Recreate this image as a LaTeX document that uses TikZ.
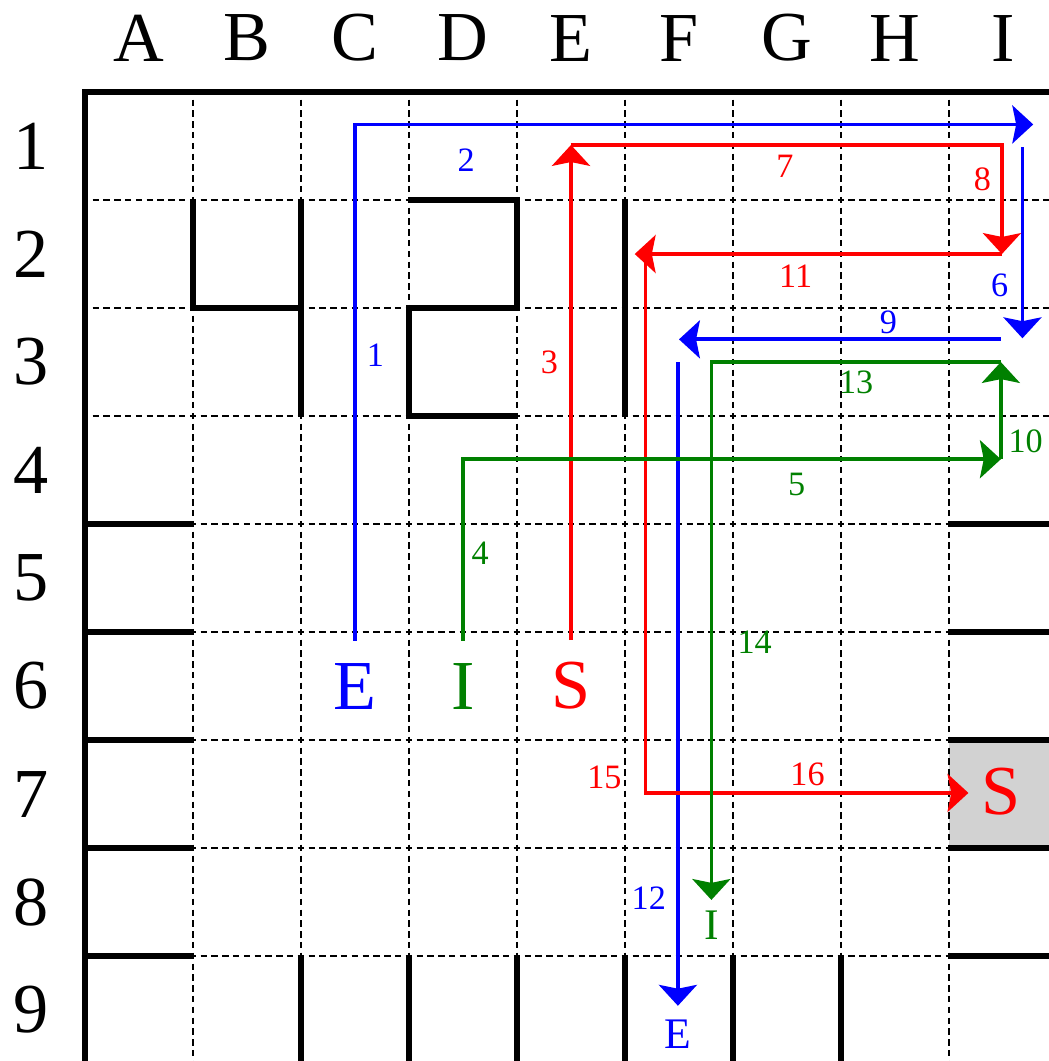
\documentclass[tikz,border=0pt]{standalone}
\usepackage{fontspec}
\setmainfont{Liberation Serif}
\usetikzlibrary{arrows.meta,positioning}

\definecolor{eblue}{RGB}{0,0,255}
\definecolor{sred}{RGB}{255,0,0}
\definecolor{igreen}{RGB}{0,128,0}
\definecolor{exitgray}{RGB}{210,210,210}

\tikzset{
  wall/.style={line width=1.6pt},
  gridline/.style={line width=0.5pt,dash pattern=on 1.7pt off 1.145pt,dash phase=0.85pt},
  route/.style={line width=1pt,-{Stealth[length=5.5pt,width=10pt,inset=1pt]}},
  head/.style={font=\fontsize{18.5}{20}\selectfont,inner sep=0pt},
  stepno/.style={font=\fontsize{9}{10}\selectfont,inner sep=0pt},
  endlabel/.style={font=\fontsize{11.5}{13}\selectfont,inner sep=0pt}
}

\begin{document}
\begin{tikzpicture}
        \useasboundingbox (-0.787,-8.972) rectangle (8.917,0.852);
        \fill[exitgray] (8,-6) rectangle (9.3,-7);
        % dashed grid
        \foreach \x in {1,...,8}
          \draw[gridline] (\x,0) -- (\x,-9.3);
        \foreach \y in {1,...,8}
          \draw[gridline] (0,-\y) -- (9.3,-\y);
        % walls
        \begin{scope}[wall]
          \draw (0,-9.3) -- (0,0) -- (9.3,0);
          \draw (1,-1) -- (1,-2) -- (2,-2);
          \draw (2,-1) -- (2,-3);
          \draw (3,-1) -- (4,-1) -- (4,-2) -- (3,-2) -- (3,-3) -- (4,-3);
          \draw (5,-1) -- (5,-3);
          \foreach \y in {4,...,8} {
            \draw (0,-\y) -- (1,-\y);
            \draw (8,-\y) -- (9.3,-\y);
          }
          \foreach \x in {2,...,7}
            \draw (\x,-8) -- (\x,-9.3);
        \end{scope}
        % column and row headings
        \begin{scope}[every node/.style={head}]
          \node (colA) at (0.5,0.5) {A};
          \node (colB) at (1.5,0.5) {B};
          \node (colC) at (2.5,0.5) {C};
          \node (colD) at (3.5,0.5) {D};
          \node (colE) at (4.5,0.5) {E};
          \node (colF) at (5.5,0.5) {F};
          \node (colG) at (6.5,0.5) {G};
          \node (colH) at (7.5,0.5) {H};
          \node (colI) at (8.5,0.5) {I};
          \node (row1) at (-0.5,-0.5) {1};
          \node (row2) at (-0.5,-1.5) {2};
          \node (row3) at (-0.5,-2.5) {3};
          \node (row4) at (-0.5,-3.5) {4};
          \node (row5) at (-0.5,-4.5) {5};
          \node (row6) at (-0.5,-5.5) {6};
          \node (row7) at (-0.5,-6.5) {7};
          \node (row8) at (-0.5,-7.5) {8};
          \node (row9) at (-0.5,-8.5) {9};
        \end{scope}
        % start and end letters
        \node[head,text=eblue] (E) at (2.5,-5.5) {E};
        \node[head,text=igreen] (I) at (3.5,-5.5) {I};
        \node[head,text=sred] (S) at (4.5,-5.5) {S};
        \node[head,text=sred] (Sexit) at (8.48,-6.48) {S};
        \node[endlabel,text=eblue] (Eend) at (5.49,-8.72) {E};
        \node[endlabel,text=igreen] (Iend) at (5.8,-7.71) {I};
        % turning points
        \coordinate (e1) at (8.78,-0.3);
        \coordinate (e2) at (8.68,-0.51);
        \coordinate (e3) at (8.68,-2.28);
        \coordinate (e4) at (8.48,-2.29);
        \coordinate (e5) at (5.5,-2.29);
        \coordinate (e6) at (5.49,-2.5);
        \coordinate (s1) at (4.5,-0.49);
        \coordinate (s2) at (8.49,-1.5);
        \coordinate (s3) at (5.09,-1.5);
        \coordinate (s4) at (5.19,-1.56);
        \coordinate (s5) at (8.18,-6.49);
        \coordinate (i1) at (8.48,-3.4);
        \coordinate (i2) at (8.48,-2.5);
        % routes
        \begin{scope}[route]
          \draw[eblue] ([yshift=2mm]E.north) |- (e1);
          \draw[eblue] (e2) -- (e3);
          \draw[eblue] (e4) -- (e5);
          \draw[eblue] (e6) -- ([yshift=1.2mm]Eend.north);
          \draw[sred] ([yshift=2mm]S.north) -- (s1);
          \draw[sred] (s1) -| (s2);
          \draw[sred] (s2) -- (s3);
          \draw[sred] (s4) |- (s5);
          \draw[igreen] ([yshift=2mm]I.north) |- (i1);
          \draw[igreen] (i1) -- (i2);
          \draw[igreen] (i2) -| ([yshift=0.9mm]Iend.north);
        \end{scope}
        % step numbers
        \begin{scope}[every node/.style={stepno}]
          \node[text=eblue] (n1) at (2.69,-2.44) {1};
          \node[text=eblue] (n2) at (3.53,-0.63) {2};
          \node[text=sred] (n3) at (4.30,-2.50) {3};
          \node[text=igreen] (n4) at (3.66,-4.27) {4};
          \node[text=igreen] (n5) at (6.59,-3.63) {5};
          \node[text=eblue] (n6) at (8.47,-1.79) {6};
          \node[text=sred] (n7) at (6.48,-0.69) {7};
          \node[text=sred] (n8) at (8.31,-0.81) {8};
          \node[text=eblue] (n9) at (7.44,-2.13) {9};
          \node[text=igreen] (n10) at (8.71,-3.23) {10};
          \node[text=sred] (n11) at (6.58,-1.71) {11};
          \node[text=eblue] (n12) at (5.22,-7.46) {12};
          \node[text=igreen] (n13) at (7.14,-2.69) {13};
          \node[text=igreen] (n14) at (6.20,-5.09) {14};
          \node[text=sred] (n15) at (4.81,-6.35) {15};
          \node[text=sred] (n16) at (6.69,-6.32) {16};
        \end{scope}
\end{tikzpicture}
\end{document}
